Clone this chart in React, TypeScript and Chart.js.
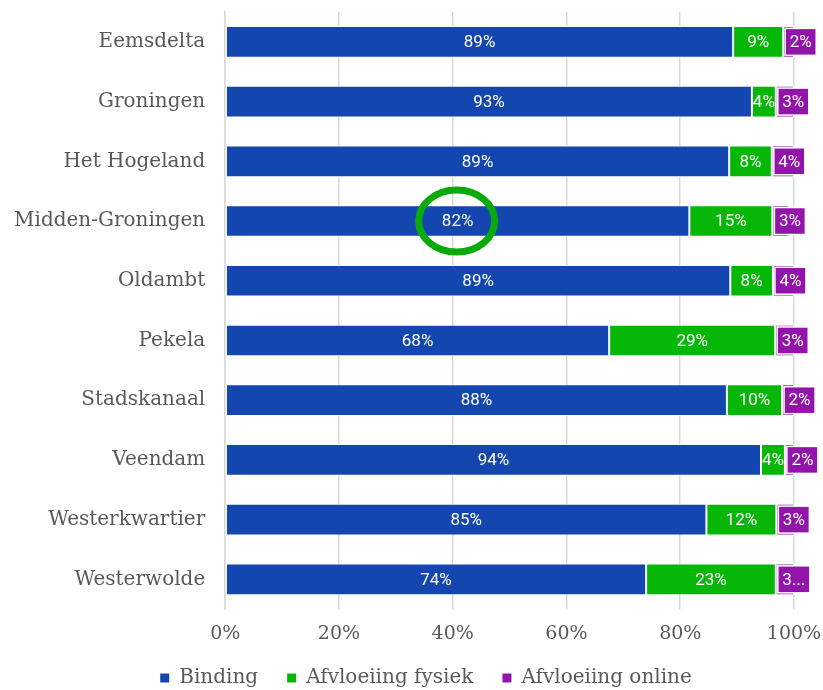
import React, { useEffect, useRef } from "react";
import { Chart, registerables } from "chart.js";

Chart.register(...registerables);

const categories = [
  "Eemsdelta",
  "Groningen",
  "Het Hogeland",
  "Midden-Groningen",
  "Oldambt",
  "Pekela",
  "Stadskanaal",
  "Veendam",
  "Westerkwartier",
  "Westerwolde",
];
const binding = [89.3, 92.6, 88.6, 81.6, 88.8, 67.5, 88.2, 94.2, 84.6, 74.0];
const fysiek = [8.8, 4.2, 7.5, 14.6, 7.5, 29.2, 9.7, 4.2, 12.3, 22.8];
const online = [1.9, 3.2, 3.9, 3.0, 3.7, 3.3, 2.1, 1.6, 3.2, 3.2];
const onlineLabels = ["2%", "3%", "4%", "3%", "4%", "3%", "2%", "2%", "3%", "3..."];
const seriesNames = ["Binding", "Afvloeiing fysiek", "Afvloeiing online"];
const xTicks = [0, 20, 40, 60, 80, 100];
const highlighted = "Midden-Groningen";

const BLUE = "#1446AF";
const GREEN = "#07B707";
const PURPLE = "#9314AA";
const TEXT = "#595959";
const SERIF = "'DejaVu Serif', serif";
const SANS = "Roboto, sans-serif";

const labelPlugin = {
  id: "barLabels",
  afterLayout(chart: any) {
    const lg = chart.legend;
    if (lg) {
      lg.left += 32;
      lg.right += 32;
    }
  },
  afterDatasetsDraw(chart: any) {
    const ctx = chart.ctx;
    ctx.save();
    ctx.font = `17px ${SANS}`;
    ctx.textBaseline = "middle";
    ctx.textAlign = "center";
    chart.data.datasets.forEach((ds: any, di: number) => {
      const meta = chart.getDatasetMeta(di);
      meta.data.forEach((el: any, i: number) => {
        const left = Math.min(el.x, el.base);
        const right = Math.max(el.x, el.base);
        if (di < 2) {
          ctx.fillStyle = "#ffffff";
          ctx.fillText(Math.round(ds.data[i]) + "%", (left + right) / 2, el.y + 1);
        } else {
          const txt = onlineLabels[i];
          const w = ctx.measureText(txt).width + 9;
          const h = 27;
          const bx = left + 2;
          const by = el.y - h / 2;
          ctx.fillStyle = PURPLE;
          ctx.fillRect(bx, by, w, h);
          ctx.strokeStyle = "#ffffff";
          ctx.lineWidth = 1.5;
          ctx.strokeRect(bx, by, w, h);
          ctx.fillStyle = "#ffffff";
          ctx.fillText(txt, bx + w / 2, el.y + 1);
        }
      });
    });
    const idx = categories.indexOf(highlighted);
    if (idx >= 0) {
      const el = chart.getDatasetMeta(0).data[idx];
      const cx = (el.x + el.base) / 2;
      ctx.beginPath();
      ctx.ellipse(cx - 1, el.y, 38, 31, 0, 0, Math.PI * 2);
      ctx.strokeStyle = "#0AAA0A";
      ctx.lineWidth = 7;
      ctx.stroke();
    }
    ctx.restore();
  },
};

const zeroPad = (axis: any) => {
  axis.paddingTop = 0;
  axis.paddingBottom = 0;
  axis.paddingLeft = 0;
  axis.paddingRight = 0;
};

export default function App() {
  const ref = useRef<HTMLCanvasElement>(null);
  useEffect(() => {
    if (!ref.current) return;
    const chart = new Chart(ref.current, {
      type: "bar",
      data: {
        labels: categories,
        datasets: [
          { label: seriesNames[0], data: binding, backgroundColor: BLUE },
          { label: seriesNames[1], data: fysiek, backgroundColor: GREEN },
          { label: seriesNames[2], data: online, backgroundColor: PURPLE },
        ].map((d) => ({
          ...d,
          borderColor: "#ffffff",
          borderWidth: 1,
          borderSkipped: false,
          barPercentage: 0.53,
          categoryPercentage: 1,
        })),
      },
      options: {
        indexAxis: "y",
        responsive: false,
        animation: false,
        maintainAspectRatio: false,
        layout: { padding: { top: 12, right: 29, left: -6, bottom: -8 } },
        plugins: {
          tooltip: { enabled: false },
          legend: {
            position: "bottom",
            labels: {
              boxWidth: 9,
              boxHeight: 9,
              color: TEXT,
              font: { family: SERIF, size: 20 },
              padding: 10,
              generateLabels: (chart: any) =>
                chart.data.datasets.map((ds: any, i: number, arr: any[]) => ({
                  text: i < arr.length - 1 ? ds.label + "   " : ds.label,
                  fillStyle: ds.backgroundColor,
                  strokeStyle: ds.backgroundColor,
                  lineWidth: 0,
                  datasetIndex: i,
                  fontColor: TEXT,
                })),
            },
          },
        },
        scales: {
          x: {
            stacked: true,
            min: 0,
            max: 100,
            afterBuildTicks: (axis: any) => {
              axis.ticks = xTicks.map((v) => ({ value: v }));
            },
            afterFit: zeroPad,
            ticks: {
              color: TEXT,
              font: { family: SERIF, size: 19 },
              padding: 13,
              callback: (v: any) => v + "%",
            },
            grid: { color: "#d9d9d9", lineWidth: 1.5, drawTicks: false },
            border: { display: false },
          },
          y: {
            stacked: true,
            afterFit: zeroPad,
            ticks: {
              color: TEXT,
              font: { family: SERIF, size: 20 },
              padding: 20,
            },
            grid: { display: false, drawTicks: false },
            border: { display: true, color: "#d9d9d9", width: 1.5 },
          },
        },
      },
      plugins: [labelPlugin],
    } as any);
    return () => chart.destroy();
  }, []);
  return (
    <div style={{ position: "absolute", left: 0, top: 0, width: 823, height: 690, background: "#fff" }}>
      <canvas ref={ref} width={823} height={690} style={{ display: "block" }} />
    </div>
  );
}
